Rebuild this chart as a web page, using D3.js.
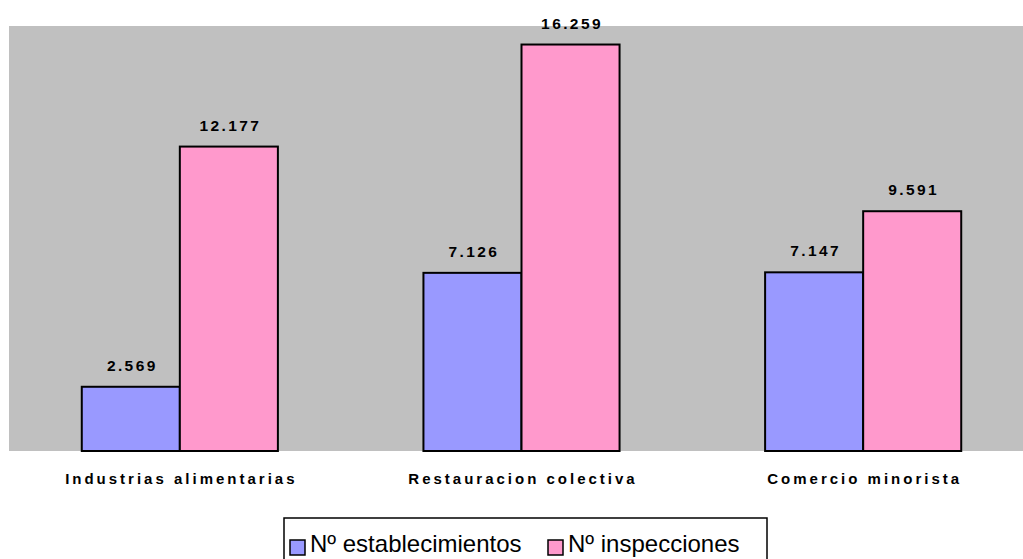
<!DOCTYPE html>
<html>
<head>
<meta charset="utf-8">
<script src="https://cdn.jsdelivr.net/npm/d3@7"></script>
<style>
  body { margin: 0; background: #fff; }
  svg { display: block; font-family: "Liberation Sans", Arial, sans-serif; }
</style>
</head>
<body>
<div class="svg-container"></div>
<script>
// data
var categories = ["Industrias alimentarias", "Restauracion colectiva", "Comercio minorista"];
var seriesNames = ["N\u00ba establecimientos", "N\u00ba inspecciones"];
var establecimientos = [2569, 7126, 7147];
var inspecciones = [12177, 16259, 9591];
var valueLabels = [["2.569", "7.126", "7.147"], ["12.177", "16.259", "9.591"]];
var colors = ["#9999ff", "#ff99cc"];

var W = 1023, H = 559;
var plot = { left: 9, right: 1034, top: 26, bottom: 451 };

var svg = d3.select(".svg-container").append("svg")
    .attr("width", W)
    .attr("height", H);

// plot background
svg.append("rect")
    .attr("x", plot.left).attr("y", plot.top)
    .attr("width", plot.right - plot.left)
    .attr("height", plot.bottom - plot.top)
    .attr("fill", "#c0c0c0");

var x0 = d3.scaleBand()
    .domain(categories)
    .range([plot.left, plot.right])
    .paddingInner(0.426)
    .paddingOuter(0.213);

var x1 = d3.scaleBand()
    .domain([0, 1])
    .range([0, x0.bandwidth()]);

var y = d3.scaleLinear()
    .domain([0, 17000])
    .range([plot.bottom, plot.top]);

var series = [establecimientos, inspecciones];
var rows = [];
series.forEach(function (vals, s) {
    vals.forEach(function (v, i) {
        rows.push({ s: s, cat: categories[i], v: v, label: valueLabels[s][i] });
    });
});

var g = svg.append("g");

g.selectAll("rect.bar")
    .data(rows)
    .enter().append("rect")
    .attr("class", "bar")
    .attr("x", function (d) { return x0(d.cat) + x1(d.s); })
    .attr("y", function (d) { return y(d.v); })
    .attr("width", x1.bandwidth())
    .attr("height", function (d) { return y(0) - y(d.v); })
    .attr("fill", function (d) { return colors[d.s]; })
    .attr("stroke", "#000")
    .attr("stroke-width", 2);

g.selectAll("text.val")
    .data(rows)
    .enter().append("text")
    .attr("class", "val")
    .attr("x", function (d) { return x0(d.cat) + x1(d.s) + x1.bandwidth() / 2 + 1.5; })
    .attr("y", function (d) { return y(d.v) - 16; })
    .attr("text-anchor", "middle")
    .attr("font-size", 15.5)
    .attr("font-weight", "bold")
    .attr("letter-spacing", 2.4)
    .attr("fill", "#000")
    .text(function (d) { return d.label; });

// category axis labels
g.selectAll("text.cat")
    .data(categories)
    .enter().append("text")
    .attr("class", "cat")
    .attr("x", function (d) { return x0(d) + x0.bandwidth() / 2 + 1.5; })
    .attr("y", 484)
    .attr("text-anchor", "middle")
    .attr("font-size", 15)
    .attr("font-weight", "bold")
    .attr("letter-spacing", 3)
    .attr("fill", "#000")
    .text(function (d) { return d; });

// legend
var legend = svg.append("g");
legend.append("rect")
    .attr("x", 284).attr("y", 518)
    .attr("width", 483).attr("height", 50)
    .attr("fill", "#fff")
    .attr("stroke", "#000")
    .attr("stroke-width", 1.5);

var legendX = [290, 548];
seriesNames.forEach(function (name, i) {
    legend.append("rect")
        .attr("x", legendX[i]).attr("y", 540)
        .attr("width", 15).attr("height", 15)
        .attr("fill", colors[i])
        .attr("stroke", "#000")
        .attr("stroke-width", 1.5);
    legend.append("text")
        .attr("x", legendX[i] + 20).attr("y", 552)
        .attr("font-size", 24)
        .attr("fill", "#000")
        .text(name);
});
</script>
</body>
</html>
